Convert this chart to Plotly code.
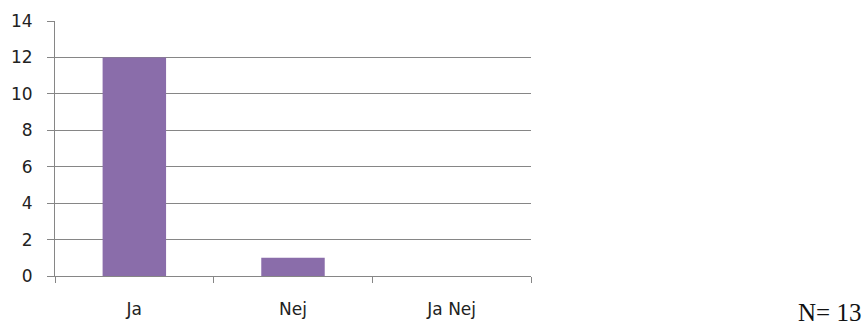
import plotly.graph_objects as go

categories = ["Ja", "Nej", "Ja Nej"]
values = [12, 1, 0]
y_ticks = [0, 2, 4, 6, 8, 10, 12, 14]
note = "N= 13"

fig = go.Figure()
fig.add_trace(go.Bar(x=categories, y=values, marker=dict(color="#8A6DAA", line=dict(width=0)), width=0.4))

fig.update_layout(
    width=867, height=331,
    margin=dict(l=55, r=336, t=21, b=55),
    paper_bgcolor="white", plot_bgcolor="white",
    showlegend=False,
    font=dict(family="DejaVu Sans, sans-serif", size=17, color="#222"),
)
fig.update_xaxes(
    type="category", tickson="boundaries", ticks="outside", ticklen=6, tickcolor="#868686",
    showline=True, linecolor="#868686", linewidth=1, showgrid=False, automargin=False,
    ticklabelstandoff=18, tickfont=dict(size=17, color="#222"),
)
fig.update_yaxes(
    range=[0, 14], tickvals=y_ticks, ticks="outside", ticklen=7, tickcolor="#868686",
    showline=True, linecolor="#868686", linewidth=1, showgrid=True, gridcolor="#868686", gridwidth=1,
    zeroline=False, automargin=False, ticklabelstandoff=11, tickfont=dict(size=17, color="#222"),
)
fig.add_annotation(
    text=note, xref="paper", yref="paper", x=1, xanchor="right", xshift=332, y=0, yshift=-36,
    yanchor="middle", showarrow=False,
    font=dict(family="Liberation Serif, DejaVu Serif, serif", size=25, color="#111"),
)
fig.write_html("out.html")
